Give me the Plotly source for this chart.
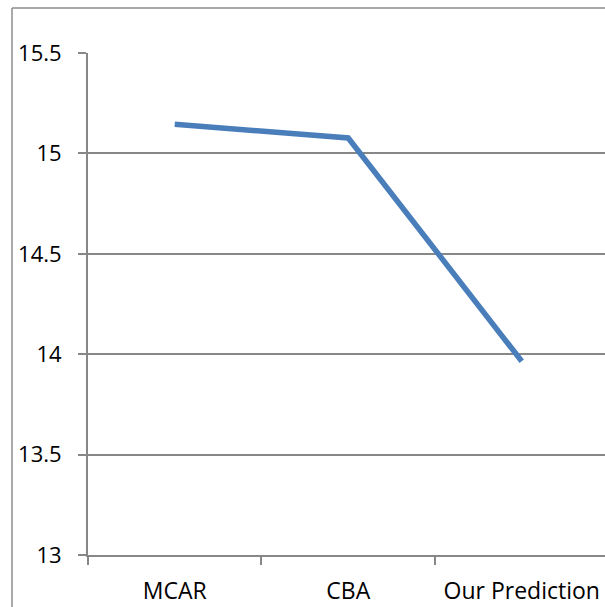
import plotly.graph_objects as go

categories = ["MCAR", "CBA", "Our Prediction"]
values = [15.145, 15.077, 13.965]
y_ticks = [13, 13.5, 14, 14.5, 15, 15.5]
y_tick_labels = ["13", "13.5", "14", "14.5", "15", "15.5"]

W, H = 605, 607
ml, mr, mt, mb = 88, 0, 53, 52
pw, ph = W - ml - mr, H - mt - mb

fig = go.Figure()
fig.add_trace(go.Scatter(
    x=categories, y=values, mode="lines",
    line=dict(color="#4a7ebb", width=5.5),
    showlegend=False, hoverinfo="skip",
))

grid = "#878787"
fig.update_layout(
    width=W, height=H,
    margin=dict(l=ml, r=mr, t=mt, b=mb, pad=0, autoexpand=False),
    paper_bgcolor="white", plot_bgcolor="white",
    font=dict(family="Open Sans", size=22, color="#000000"),
    xaxis=dict(
        type="category", range=[-0.5, 2.48], automargin=False,
        tickson="boundaries", ticks="outside", ticklen=8, tickcolor=grid, tickwidth=2,
        showline=True, linecolor=grid, linewidth=2,
        showgrid=False, zeroline=False, ticklabelstandoff=14,
        tickfont=dict(size=23),
    ),
    yaxis=dict(
        range=[13, 15.5], tickvals=y_ticks, ticktext=y_tick_labels, automargin=False,
        ticks="outside", ticklen=8, tickcolor=grid, tickwidth=2,
        showline=True, linecolor=grid, linewidth=2,
        showgrid=True, gridcolor=grid, gridwidth=2, zeroline=False,
        ticklabelstandoff=12,
    ),
    shapes=[
        dict(type="line", xref="paper", yref="paper",
             x0=(12 - ml) / pw, x1=(W - ml) / pw,
             y0=(H - mb - 8) / ph, y1=(H - mb - 8) / ph,
             line=dict(color="#8c8c8c", width=1.5)),
        dict(type="line", xref="paper", yref="paper",
             x0=(12 - ml) / pw, x1=(12 - ml) / pw,
             y0=(H - mb - 8) / ph, y1=-mb / ph,
             line=dict(color="#8c8c8c", width=1.5)),
    ],
)

# remove the page's default body margin so the figure sits at the window's corner
fig.write_html(
    "out.html",
    config={"displayModeBar": False},
    post_script="document.body.style.margin='0';document.documentElement.style.overflow='hidden';",
)
